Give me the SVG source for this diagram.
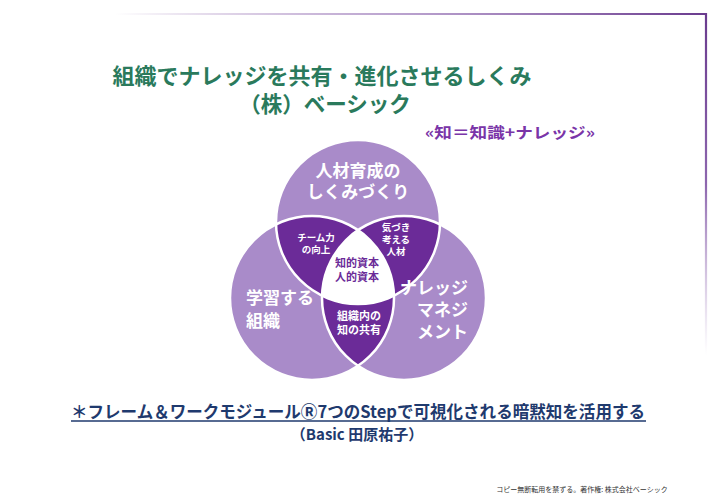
<svg xmlns="http://www.w3.org/2000/svg" width="720" height="498" viewBox="0 0 720 498">
<defs>
<linearGradient id="gh" x1="115" y1="0" x2="706" y2="0" gradientUnits="userSpaceOnUse">
<stop offset="0" stop-color="#7a4a9e" stop-opacity="0"/>
<stop offset="0.5" stop-color="#9a77b8" stop-opacity="0.7"/>
<stop offset="1" stop-color="#6a3b8e"/>
</linearGradient>
<linearGradient id="gv" x1="0" y1="14" x2="0" y2="355" gradientUnits="userSpaceOnUse">
<stop offset="0" stop-color="#6a3b8e"/>
<stop offset="0.5" stop-color="#8d66ae"/>
<stop offset="1" stop-color="#b79ccd" stop-opacity="0"/>
</linearGradient>
<style>
.c{fill:#a98bc9}
.ring{fill:none;stroke:#ffffff;stroke-width:2.5}
.d{fill:#6b2b98}
.w{fill:#ffffff}
text{font-family:"Noto Sans CJK JP","Noto Sans",sans-serif;font-weight:bold}
.lg{fill:#ffffff;font-size:17px}
.sm{fill:#ffffff;font-size:9.5px}
.md{fill:#ffffff;font-size:11px}
.ctr{fill:#6b2b98;font-size:11px}
</style>
</defs>
<rect width="720" height="498" fill="#ffffff"/>
<g id="frame">
<line x1="115" y1="14" x2="707" y2="14" stroke="url(#gh)" stroke-width="2.2"/>
<line x1="706" y1="13" x2="706" y2="355" stroke="url(#gv)" stroke-width="2.2"/>
</g>
<g id="title">
<text x="322" y="84" text-anchor="middle" font-size="22" fill="#2a7a5c">組織でナレッジを共有・進化させるしくみ</text>
<text x="325" y="112" text-anchor="middle" font-size="21.5" fill="#2a7a5c">（株）ベーシック</text>
<text x="510" y="138" text-anchor="middle" font-size="15" fill="#7a35a8" textLength="170" lengthAdjust="spacingAndGlyphs">«知＝知識+ナレッジ»</text>
</g>
<g id="venn">
<g id="circle-top"><circle class="c" cx="358" cy="222" r="82"/></g>
<g id="circle-left"><circle class="c" cx="312" cy="298" r="82"/></g>
<g id="circle-right"><circle class="c" cx="404" cy="298" r="82"/></g>
<g id="lens-top-left"><path class="d" d="M276.03,224.31 A82,82 0 0,0 322.03,295.69 A82,82 0 0,1 358,230.12 A82,82 0 0,0 276.03,224.31 Z"/></g>
<g id="lens-top-right"><path class="d" d="M439.97,224.31 A82,82 0 0,1 393.97,295.69 A82,82 0 0,0 358,230.12 A82,82 0 0,1 439.97,224.31 Z"/></g>
<g id="lens-bottom"><path class="d" d="M358,365.88 A82,82 0 0,0 393.97,295.69 A82,82 0 0,1 322.03,295.69 A82,82 0 0,0 358,365.88 Z"/></g>
<g id="center"><path class="w" d="M358,230.12 A82,82 0 0,1 393.97,295.69 A82,82 0 0,1 322.03,295.69 A82,82 0 0,1 358,230.12 Z"/></g>
<circle class="ring" cx="358" cy="222" r="82"/>
<circle class="ring" cx="312" cy="298" r="82"/>
<circle class="ring" cx="404" cy="298" r="82"/>
<text class="lg" x="358" y="177" text-anchor="middle">人材育成の</text>
<text class="lg" x="358" y="198" text-anchor="middle">しくみづくり</text>
<text class="lg" x="246" y="304">学習する</text>
<text class="lg" x="246" y="327">組織</text>
<text class="lg" x="468" y="294" text-anchor="end">ナレッジ</text>
<text class="lg" x="468" y="316" text-anchor="end">マネジ</text>
<text class="lg" x="468" y="338" text-anchor="end">メント</text>
<text class="sm" x="316" y="241" text-anchor="middle">チーム力</text>
<text class="sm" x="316" y="253" text-anchor="middle">の向上</text>
<text class="sm" x="396" y="231" text-anchor="middle">気づき</text>
<text class="sm" x="396" y="243" text-anchor="middle">考える</text>
<text class="sm" x="396" y="255" text-anchor="middle">人材</text>
<text class="ctr" x="357" y="267" text-anchor="middle">知的資本</text>
<text class="ctr" x="357" y="281" text-anchor="middle">人的資本</text>
<text class="md" x="359" y="320" text-anchor="middle">組織内の</text>
<text class="md" x="359" y="334" text-anchor="middle">知の共有</text>
</g>
<g id="footer-text">
<text x="358" y="418" text-anchor="middle" font-size="17" fill="#1f3a6e" textLength="574" lengthAdjust="spacingAndGlyphs">＊フレーム＆ワークモジュールⓇ7つのStepで可視化される暗黙知を活用する</text>
<line x1="71" y1="421" x2="646" y2="421" stroke="#1f3a6e" stroke-width="1.5"/>
<text x="357" y="440" text-anchor="middle" font-size="15" fill="#1f3a6e">（Basic 田原祐子）</text>
<text x="582" y="492" text-anchor="middle" font-size="7" fill="#333333" style="font-weight:normal">コピー無断転用を禁ずる。著作権: 株式会社ベーシック</text>
</g>
</svg>
